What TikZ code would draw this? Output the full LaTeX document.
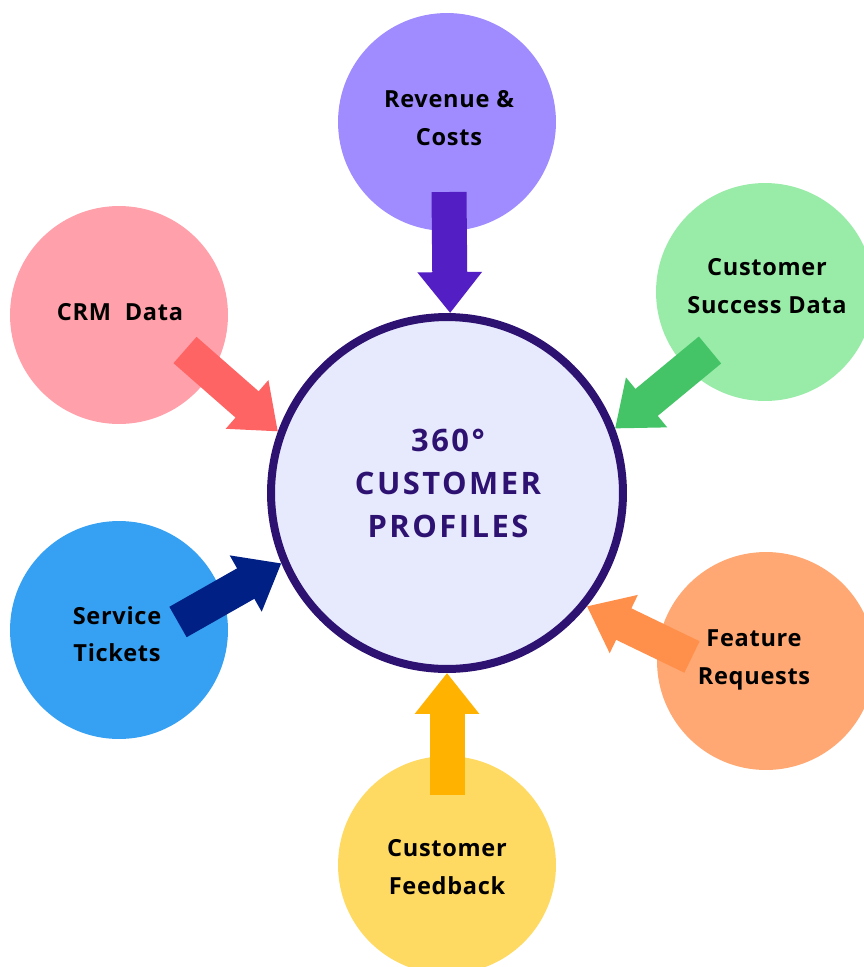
\documentclass[tikz,border=0pt]{standalone}
\usepackage{fontspec}
\setmainfont{Open Sans}
\newfontfamily\srcfont[LetterSpace=3]{Open Sans}
\newfontfamily\hubfont[LetterSpace=8]{Open Sans}
\usetikzlibrary{arrows.meta}

\definecolor{hubfill}{HTML}{E7E9FC}
\definecolor{hubline}{HTML}{2E1272}
\definecolor{revfill}{HTML}{A08CFF}
\definecolor{revarrow}{HTML}{531FC4}
\definecolor{crmfill}{HTML}{FFA0AB}
\definecolor{crmarrow}{HTML}{FF6464}
\definecolor{succfill}{HTML}{98ECA8}
\definecolor{succarrow}{HTML}{45C467}
\definecolor{ticketfill}{HTML}{36A1F2}
\definecolor{ticketarrow}{HTML}{002086}
\definecolor{featfill}{HTML}{FFA873}
\definecolor{featarrow}{HTML}{FF904C}
\definecolor{feedfill}{HTML}{FFDA62}
\definecolor{feedarrow}{HTML}{FFB200}

\tikzset{
    source/.style = {circle, minimum size = 4.36cm, inner sep = 0pt},
    hub/.style = {circle, minimum size = 7.04cm, inner sep = 0pt,
        fill = hubfill, draw = hubline, line width = 0.16cm},
    srctext/.style = {align = center, text depth = 0pt,
        font = \srcfont\bfseries\fontsize{13.4}{21.4}\selectfont},
    hubtext/.style = {align = center, text = hubline,
        font = \hubfont\bfseries\fontsize{17.6}{24.5}\selectfont},
    inflow/.style = {line width = 0.7cm,
        -{Triangle[length = 0.82cm, width = 1.24cm]}}
}

\begin{document}
\begin{tikzpicture}[x = 0.02cm, y = -0.02cm]
    \clip (0, 0) rectangle (864, 967);
    \fill[white] (0, 0) rectangle (864, 967);

    \node[source, fill = revfill] (rev) at (447, 122) {};
    \node[source, fill = crmfill] (crm) at (119, 315) {};
    \node[source, fill = succfill] (succ) at (765, 292) {};
    \node[source, fill = ticketfill] (ticket) at (119, 630) {};
    \node[source, fill = featfill] (feat) at (766, 661) {};
    \node[source, fill = feedfill] (feed) at (447, 865) {};

    \node[hub] (hub) at (447, 493) {};

    \coordinate (rev tail) at (449, 192);
    \coordinate (crm tail) at (185, 350);
    \coordinate (succ tail) at (710, 350);
    \coordinate (ticket tail) at (178, 622);
    \coordinate (feat tail) at (692, 657);
    \coordinate (feed tail) at (447, 795);

    \draw[inflow, draw = revarrow] (rev tail) -- (hub.89);
    \draw[inflow, draw = crmarrow] (crm tail) -- (hub.160);
    \draw[inflow, draw = succarrow] (succ tail) -- (hub.21);
    \draw[inflow, draw = ticketarrow] (ticket tail) -- (hub.203);
    \draw[inflow, draw = featarrow] (feat tail) -- (hub.321);
    \draw[inflow, draw = feedarrow] (feed tail) -- (hub.270);

    \node[hubtext] (hub txt) at (448, 483) {360°\\CUSTOMER\\PROFILES};
    \node[srctext] (rev txt) at (449, 118) {Revenue \&\\Costs};
    \node[srctext] (crm txt) at (120, 312) {CRM\ \ Data};
    \node[srctext] (succ txt) at (767, 286) {Customer\\Success Data};
    \node[srctext] (ticket txt) at (117, 634) {Service\\Tickets};
    \node[srctext] (feat txt) at (754, 657) {Feature\\Requests};
    \node[srctext] (feed txt) at (447, 867) {Customer\\Feedback};
\end{tikzpicture}
\end{document}
